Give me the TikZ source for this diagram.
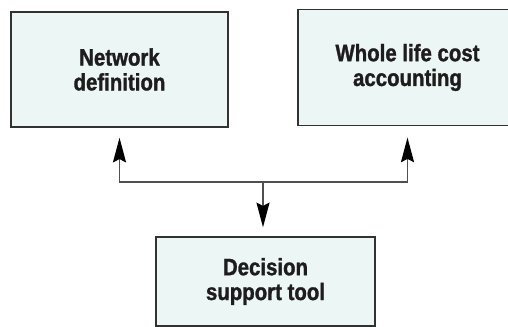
\documentclass[tikz,border=0pt]{standalone}
\usepackage{fontspec}
\newfontfamily\boxfont{Liberation Sans}[FakeStretch=0.86, BoldFeatures={FakeBold=1.2}]
\usetikzlibrary{arrows.meta}
\definecolor{boxfill}{RGB}{236,246,245}
\definecolor{boxline}{RGB}{50,50,50}
\definecolor{linkgray}{RGB}{80,80,80}
\definecolor{textdark}{RGB}{30,28,28}
\tikzset{
  block/.style={draw=boxline, line width=1.1pt, fill=boxfill, text=textdark,
    align=center, inner sep=0pt,
    font=\boxfont\bfseries\fontsize{17.8}{18.6}\selectfont},
  link/.style={draw=linkgray, line width=1.1pt,
    -{Stealth[length=18.5pt, width=9.8pt, inset=2.5pt, color=black]}}
}
\begin{document}
\begin{tikzpicture}[x=0.75pt,y=0.75pt,yscale=-1,xscale=1]
\path[use as bounding box, clip] (0,0) rectangle (508,327);
% Boxes
\node[block, minimum width=162.75pt, minimum height=86.25pt] (net) at (119.5,69.5) {Network\\definition};
\node[block, minimum width=164.25pt, minimum height=87pt] (wlc) at (407.5,67.5) {Whole life cost\\accounting};
\node[block, minimum width=164.25pt, minimum height=66.75pt] (dst) at (265.5,281.5) {Decision\\support tool};
% Connectors
\coordinate (hub) at (263,182);
\draw[link, shorten >=7.5pt] (hub) -| (net.south);
\draw[link, shorten >=8.5pt] (hub) -| (wlc.south);
\draw[link, shorten >=6.75pt] (hub) -- (hub |- dst.north);
\end{tikzpicture}
\end{document}
